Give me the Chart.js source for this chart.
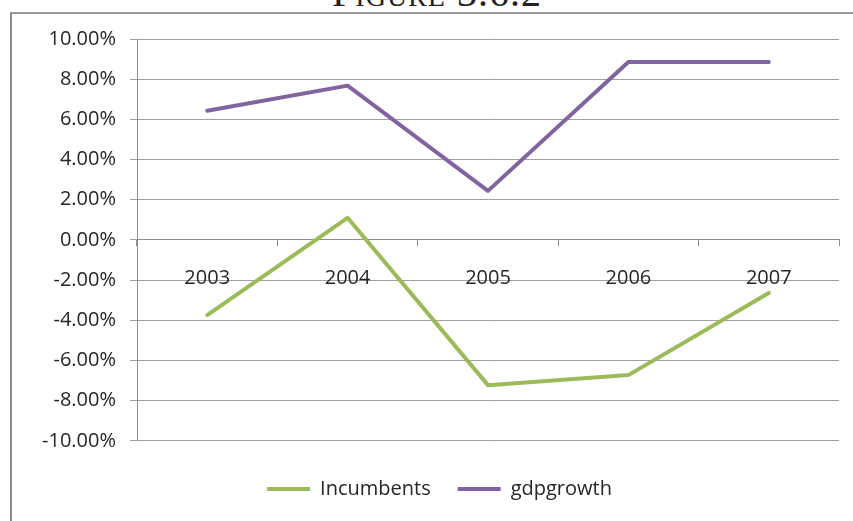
<!DOCTYPE html>
<html>
<head>
<meta charset="utf-8">
<script src="https://cdn.jsdelivr.net/npm/chart.js@4/dist/chart.umd.min.js"></script>
<style>
  html, body { margin: 0; padding: 0; width: 853px; height: 521px; overflow: hidden; background: #fff; }
  #heading {
    position: absolute; left: 0; top: -27px; width: 874px; height: 40px;
    font-family: "Liberation Serif", "DejaVu Serif", serif; font-size: 40px; line-height: 40px;
    font-variant: small-caps; text-align: center; color: #222; letter-spacing: 1px;
  }
  #frame {
    position: absolute; left: 10px; top: 12px; width: 900px; height: 600px;
    border-left: 2px solid #8c8c8c; border-top: 2px solid #9a9a9a;
  }
  #wrap { position: absolute; left: 0; top: 0; width: 879px; height: 521px; }
</style>
</head>
<body>
<div id="heading">Figure 3.6.2</div>
<div id="frame"></div>
<div id="wrap"><canvas id="chart"></canvas></div>
<script>
// Annual figures, in percent
const years = ['2003', '2004', '2005', '2006', '2007'];
const incumbents = [-3.74, 1.10, -7.23, -6.73, -2.64];
const gdpgrowth = [6.43, 7.68, 2.44, 8.86, 8.86];
const yTicks = [-10, -8, -6, -4, -2, 0, 2, 4, 6, 8, 10];

const FONT = '"Open Sans", "Liberation Sans", sans-serif';
const TEXT = '#262626';

new Chart(document.getElementById('chart'), {
  type: 'line',
  data: {
    labels: years,
    datasets: [
      {
        label: 'Incumbents',
        data: incumbents,
        borderColor: '#9bbb59',
        backgroundColor: '#9bbb59',
        borderWidth: 4,
        pointRadius: 0,
        borderCapStyle: 'round',
        borderJoinStyle: 'round',
        tension: 0
      },
      {
        label: 'gdpgrowth',
        data: gdpgrowth,
        borderColor: '#8064a2',
        backgroundColor: '#8064a2',
        borderWidth: 4,
        pointRadius: 0,
        borderCapStyle: 'round',
        borderJoinStyle: 'round',
        tension: 0
      }
    ]
  },
  options: {
    responsive: true,
    maintainAspectRatio: false,
    animation: false,
    layout: { padding: { top: 39, left: 0, right: 0, bottom: 12 } },
    scales: {
      x: {
        type: 'category',
        position: { y: 0 },
        offset: true,
        grid: { offset: true, drawOnChartArea: false, drawTicks: true, tickLength: 6, color: '#8c8c8c' },
        border: { display: true, color: '#8c8c8c', width: 1 },
        ticks: { color: TEXT, font: { family: FONT, size: 20 }, padding: 20, maxRotation: 0 }
      },
      y: {
        position: 'left',
        min: -10,
        max: 10,
        afterBuildTicks: (s) => { s.ticks = yTicks.map(v => ({ value: v })); },
        afterFit: (s) => { s.width = 137; },
        grid: { color: '#a0a0a0', drawTicks: true, tickLength: 7 },
        border: { display: true, color: '#8c8c8c', width: 1 },
        ticks: {
          color: TEXT, font: { family: FONT, size: 20 }, padding: 14,
          callback: (v) => v.toFixed(2) + '%'
        }
      },
      spacer: {
        type: 'linear',
        position: 'right',
        display: true,
        grid: { display: false, drawTicks: false },
        border: { display: false },
        ticks: { display: false },
        afterFit: (s) => { s.width = 40; }
      }
    },
    plugins: {
      tooltip: { enabled: false },
      legend: {
        position: 'bottom',
        title: { display: true, text: ' ', font: { size: 1 }, padding: { top: 10, bottom: 0 } },
        labels: {
          usePointStyle: true,
          pointStyle: 'line',
          pointStyleWidth: 43,
          padding: 27,
          color: TEXT,
          font: { family: FONT, size: 20 }
        }
      }
    }
  }
});
</script>
</body>
</html>
